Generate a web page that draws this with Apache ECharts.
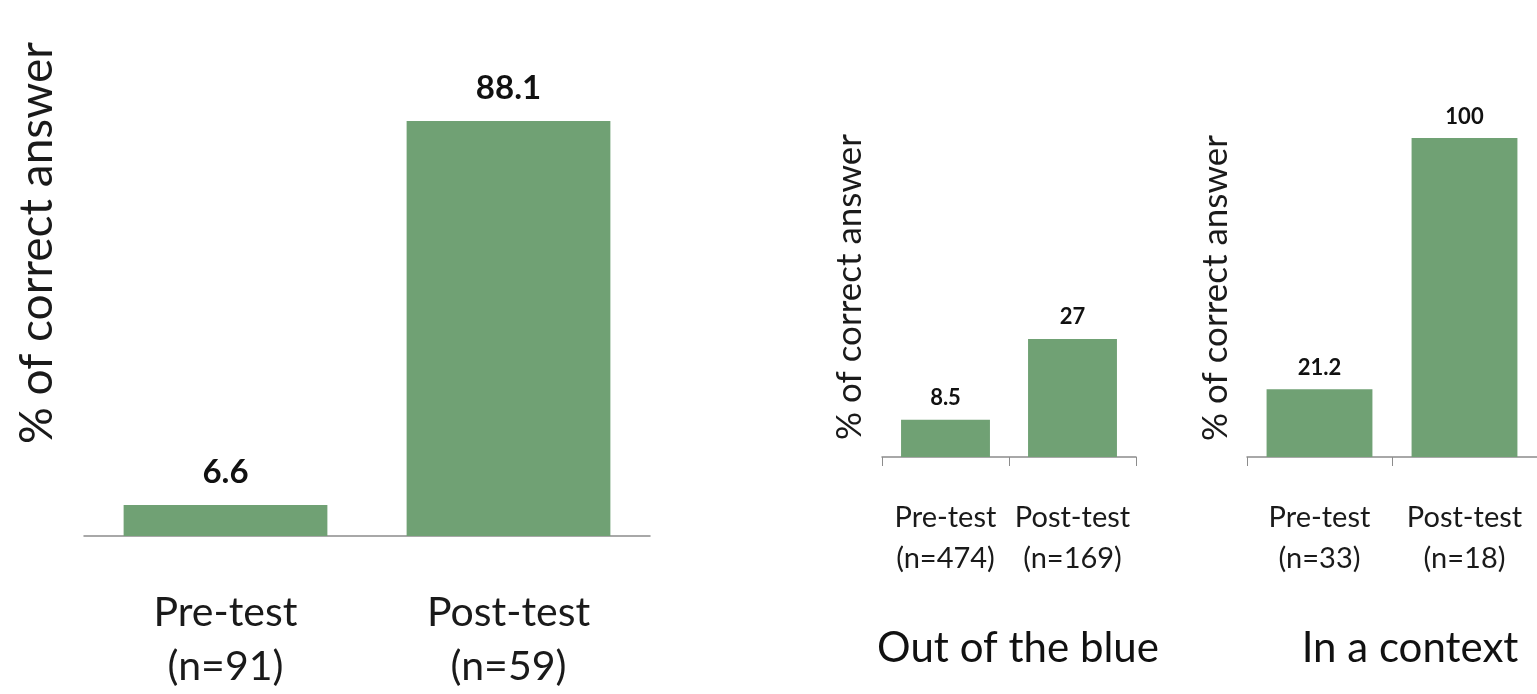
<!DOCTYPE html>
<html>
<head>
<meta charset="utf-8">
<script src="https://cdn.jsdelivr.net/npm/echarts@6/dist/echarts.min.js"></script>
<style>
  html, body { margin: 0; padding: 0; background: #fff; }
  #chart { width: 1537px; height: 694px; }
</style>
</head>
<body>
<div id="chart"></div>
<script>
// Share of correct answers before and after the test, three panels
const overallCategories = ['Pre-test\n(n=91)', 'Post-test\n(n=59)'];
const overallValues = [6.6, 88.1];

const blueCategories = ['Pre-test\n(n=474)', 'Post-test\n(n=169)'];
const blueValues = [8.5, 27];

const contextCategories = ['Pre-test\n(n=33)', 'Post-test\n(n=18)'];
const contextValues = [21.2, 100];

const yTitle = '% of correct answer';
const panelTitles = ['Out of the blue', 'In a context'];

const FONT = 'Lato, "Open Sans", sans-serif';
const GREEN = '#70a174';
const AXIS_GREY = '#8c8c8c';

const chart = echarts.init(document.getElementById('chart'), null, { renderer: 'canvas' });

function xAxisFor(gridIndex, data, fontSize, lineHeight, margin, showTicks) {
  return {
    type: 'category',
    gridIndex,
    data,
    axisLine: { lineStyle: { color: AXIS_GREY, width: 1.5 } },
    axisTick: { show: showTicks, length: 9, lineStyle: { color: AXIS_GREY } },
    axisLabel: {
      interval: 0,
      hideOverlap: false,
      color: '#1a1a1a',
      fontFamily: FONT,
      fontSize,
      lineHeight,
      margin
    }
  };
}

function yAxisFor(gridIndex, max) {
  return {
    type: 'value',
    gridIndex,
    min: 0,
    max,
    show: false,
    splitLine: { show: false }
  };
}

function barSeries(axisIndex, values, gap, fontSize, distance) {
  return {
    type: 'bar',
    xAxisIndex: axisIndex,
    yAxisIndex: axisIndex,
    barCategoryGap: gap,
    itemStyle: { color: GREEN },
    data: values,
    label: {
      show: true,
      position: 'top',
      distance,
      color: '#111',
      fontFamily: FONT,
      fontWeight: 'bold',
      fontSize
    },
    silent: true,
    animation: false
  };
}

function yTitleText(x, y, fontSize) {
  return {
    type: 'text',
    x, y,
    rotation: Math.PI / 2,
    style: {
      text: yTitle,
      fontFamily: FONT,
      fontSize,
      fill: '#1a1a1a',
      align: 'center',
      verticalAlign: 'middle'
    }
  };
}

function panelTitle(text, x, y) {
  return {
    type: 'text',
    x, y,
    style: {
      text,
      fontFamily: FONT,
      fontSize: 42,
      fill: '#111',
      align: 'center',
      verticalAlign: 'middle'
    }
  };
}

chart.setOption({
  backgroundColor: '#ffffff',
  animation: false,
  grid: [
    { left: 84, top: 65, width: 566, height: 472 },
    { left: 882, top: 20, width: 254, height: 437 },
    { left: 1247, top: 138, width: 290, height: 319 }
  ],
  xAxis: [
    xAxisFor(0, overallCategories, 41, 54, 50, false),
    xAxisFor(1, blueCategories, 29, 41, 40, true),
    xAxisFor(2, contextCategories, 29, 41, 40, true)
  ],
  yAxis: [
    yAxisFor(0, 100),
    yAxisFor(1, 100),
    yAxisFor(2, 100)
  ],
  series: [
    barSeries(0, overallValues, '28%', 33, 16),
    barSeries(1, blueValues, '30%', 22, 11),
    barSeries(2, contextValues, '27%', 22, 10)
  ],
  graphic: [
    yTitleText(37, 243, 46),
    yTitleText(850, 287, 35),
    yTitleText(1216, 288, 35),
    panelTitle(panelTitles[0], 1018, 648),
    panelTitle(panelTitles[1], 1410, 648)
  ]
});
</script>
</body>
</html>
